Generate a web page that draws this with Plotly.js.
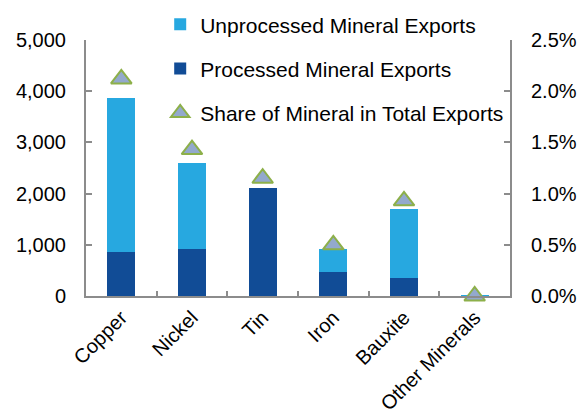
<!DOCTYPE html>
<html>
<head>
<meta charset="utf-8">
<script src="https://cdn.plot.ly/plotly-3.0.1.min.js"></script>
<style>html,body{margin:0;padding:0;background:#fff;}#chart{width:580px;height:416px;}</style>
</head>
<body>
<div id="chart"></div>
<script>
var categories = ["Copper", "Nickel", "Tin", "Iron", "Bauxite", "Other Minerals"];
var processedExports = [850, 915, 2105, 475, 345, 0];
var unprocessedExports = [3010, 1685, 0, 445, 1355, 15];
var mineralShare = [2.12, 1.43, 1.15, 0.50, 0.93, 0.0];
var leftTicks = [0, 1000, 2000, 3000, 4000, 5000];
var leftTickText = ["0", "1,000", "2,000", "3,000", "4,000", "5,000"];
var rightTicks = [0, 0.5, 1.0, 1.5, 2.0, 2.5];
var rightTickText = ["0.0%", "0.5%", "1.0%", "1.5%", "2.0%", "2.5%"];

var font = "Liberation Sans, Arial, sans-serif";
var axisColor = "#8c8c8c";

var traces = [
  {
    type: "bar", name: "Processed Mineral Exports", x: categories, y: processedExports,
    marker: {color: "#114C96", line: {width: 0}}, legendgroup: "p", legendrank: 2
  },
  {
    type: "bar", name: "Unprocessed Mineral Exports", x: categories, y: unprocessedExports,
    marker: {color: "#27A8E0", line: {width: 0}}, legendgroup: "u", legendrank: 1
  },
  {
    type: "scatter", mode: "markers", name: "Share of Mineral in Total Exports",
    x: categories, y: mineralShare, yaxis: "y2", cliponaxis: false,
    marker: {symbol: "triangle-up", size: 18, color: "#93A9CD", line: {color: "#8DB04A", width: 2}},
    legendgroup: "s", legendrank: 3
  }
];

var layout = {
  width: 580, height: 416,
  margin: {l: 86, r: 70, t: 40, b: 120, autoexpand: false},
  paper_bgcolor: "#fff", plot_bgcolor: "#fff",
  font: {family: font, size: 20, color: "#000"},
  barmode: "stack", bargap: 0.6,
  showlegend: true,
  legend: {
    x: 0.175, xanchor: "left", y: 1.14, yanchor: "top",
    bgcolor: "rgba(0,0,0,0)", font: {family: font, size: 21, color: "#000"},
    traceorder: "grouped", tracegroupgap: 14
  },
  xaxis: {
    type: "category", showgrid: false, zeroline: false,
    showline: true, linecolor: axisColor, linewidth: 2,
    ticks: "inside", tickson: "boundaries", ticklen: 5, tickcolor: axisColor, tickwidth: 2,
    tickangle: -45, tickfont: {family: font, size: 20, color: "#000"}
  },
  yaxis: {
    range: [0, 5000], tickmode: "array", tickvals: leftTicks, ticktext: leftTickText,
    showgrid: false, zeroline: false,
    showline: true, linecolor: axisColor, linewidth: 2,
    ticks: "inside", ticklen: 6, tickcolor: axisColor, tickwidth: 2,
    ticklabelstandoff: 14,
    tickfont: {family: font, size: 20, color: "#000"}
  },
  yaxis2: {
    range: [0, 2.5], tickmode: "array", tickvals: rightTicks, ticktext: rightTickText,
    overlaying: "y", side: "right", showgrid: false, zeroline: false,
    showline: true, linecolor: axisColor, linewidth: 2,
    ticks: "inside", ticklen: 6, tickcolor: axisColor, tickwidth: 2,
    ticklabelstandoff: 15,
    tickfont: {family: font, size: 20, color: "#000"}
  }
};

Plotly.newPlot("chart", traces, layout, {displayModeBar: false, staticPlot: true});
</script>
</body>
</html>
